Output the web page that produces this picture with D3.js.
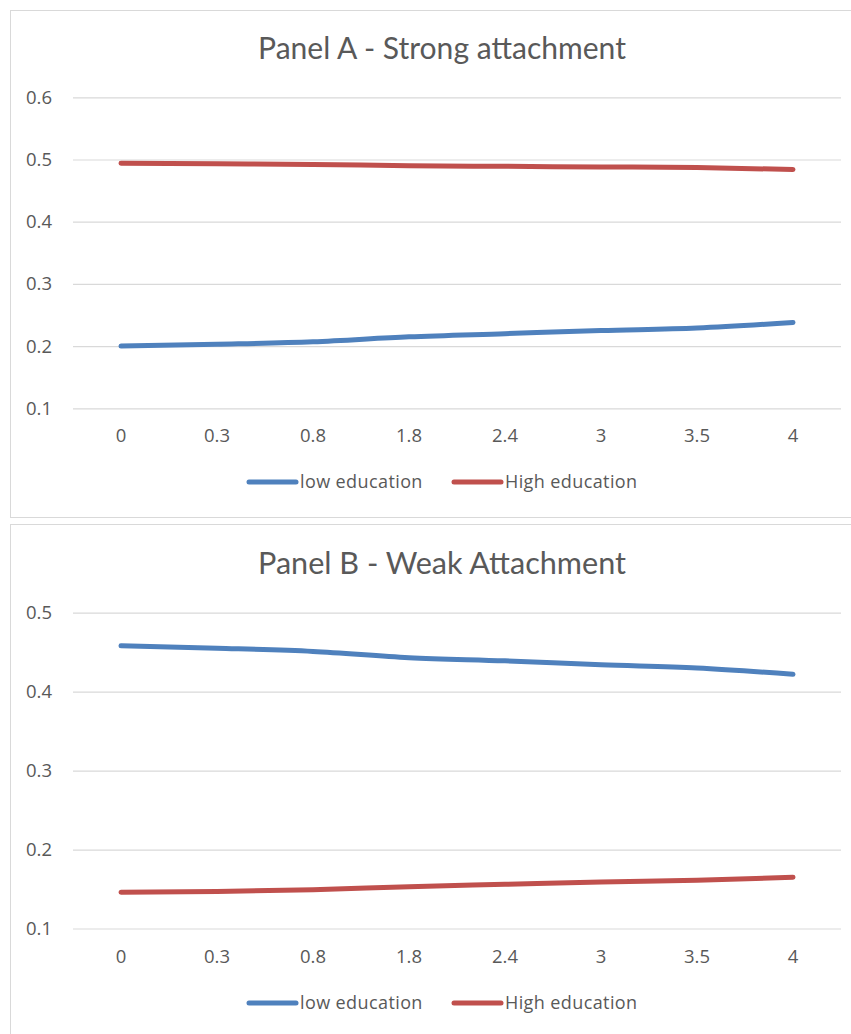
<!DOCTYPE html>
<html>
<head>
<meta charset="utf-8">
<script src="https://cdn.jsdelivr.net/npm/d3@7"></script>
<style>
  html, body { margin: 0; padding: 0; background: #fff; }
  svg { display: block; }
  text { font-family: "Open Sans", Lato, sans-serif; fill: #595959; }
</style>
</head>
<body>
<svg id="chart" width="851" height="1034"></svg>
<script>
// Categories on the x axis (shared by both panels)
const categories = ["0", "0.3", "0.8", "1.8", "2.4", "3", "3.5", "4"];

// Panel A – Strong attachment
const strongLow  = [0.200, 0.203, 0.207, 0.215, 0.220, 0.225, 0.229, 0.238];
const strongHigh = [0.494, 0.493, 0.492, 0.490, 0.489, 0.488, 0.487, 0.484];
const strongTicks = [0.1, 0.2, 0.3, 0.4, 0.5, 0.6];

// Panel B – Weak attachment
const weakLow  = [0.458, 0.455, 0.451, 0.443, 0.439, 0.434, 0.430, 0.422];
const weakHigh = [0.146, 0.147, 0.149, 0.153, 0.156, 0.159, 0.161, 0.165];
const weakTicks = [0.1, 0.2, 0.3, 0.4, 0.5];

const seriesNames = ["low education", "High education"];
const seriesColors = ["#4F81BD", "#C0504D"];

const svg = d3.select("#chart");
const labelFont = "'Open Sans', Lato, sans-serif";

const panels = [
  { title: "Panel A - Strong attachment", low: strongLow, high: strongHigh, ticks: strongTicks,
    box: [10, 10, 860, 507], titleY: 59, plotTop: 97.3, plotBottom: 408.3,
    xLabelY: 443, legendY: 482 },
  { title: "Panel B - Weak Attachment", low: weakLow, high: weakHigh, ticks: weakTicks,
    box: [10, 524, 860, 530], titleY: 574, plotTop: 612.7, plotBottom: 928.5,
    xLabelY: 964, legendY: 1003 }
];

const plotLeft = 73, plotRight = 841;

panels.forEach(p => {
  const g = svg.append("g");

  // chart area border
  g.append("rect")
    .attr("x", p.box[0] + 0.5).attr("y", p.box[1] + 0.5)
    .attr("width", p.box[2]).attr("height", p.box[3])
    .attr("fill", "#fff").attr("stroke", "#d9d9d9").attr("stroke-width", 1);

  // title, sized to the chart's title width
  const title = g.append("text")
    .attr("x", 442).attr("y", p.titleY)
    .attr("text-anchor", "middle")
    .style("font-family", "Lato, 'Open Sans', sans-serif")
    .style("font-size", "28px")
    .attr("fill", "#5f5f5f")
    .text(p.title);
  const w = title.node().getComputedTextLength();
  title.style("font-size", (28 * 368 / w).toFixed(2) + "px");

  const x = d3.scaleBand().domain(categories).range([plotLeft, plotRight]);
  const y = d3.scaleLinear()
    .domain([d3.min(p.ticks), d3.max(p.ticks)])
    .range([p.plotBottom, p.plotTop]);

  // gridlines + y labels
  const yAxis = d3.axisLeft(y).tickValues(p.ticks)
    .tickSize(-(plotRight - plotLeft)).tickPadding(21)
    .tickFormat(d3.format(".1f"));
  const ya = g.append("g").attr("transform", `translate(${plotLeft},0)`).call(yAxis);
  ya.select(".domain").remove();
  ya.selectAll(".tick line").attr("stroke", "#d9d9d9").attr("stroke-width", 1.2);
  ya.selectAll(".tick text").style("font-size", "18.5px").attr("fill", "#595959")
    .style("font-family", labelFont);

  // x labels
  const xAxis = d3.axisBottom(x).tickSize(0).tickPadding(0);
  const xa = g.append("g").attr("transform", `translate(0,${p.xLabelY - 14})`).call(xAxis);
  xa.select(".domain").remove();
  xa.selectAll(".tick text").style("font-size", "18.5px").attr("fill", "#595959")
    .attr("dy", "0.71em")
    .style("font-family", labelFont);

  // series lines
  const line = d3.line()
    .x((d, i) => x(categories[i]) + x.bandwidth() / 2)
    .y(d => y(d))
    .curve(d3.curveMonotoneX);

  [p.low, p.high].forEach((vals, k) => {
    g.append("path")
      .datum(vals)
      .attr("d", line)
      .attr("fill", "none")
      .attr("stroke", seriesColors[k])
      .attr("stroke-width", 5)
      .attr("stroke-linecap", "round")
      .attr("stroke-linejoin", "round");
  });

  // legend
  const legendItems = [
    { name: seriesNames[0], color: seriesColors[0], x0: 249 },
    { name: seriesNames[1], color: seriesColors[1], x0: 454 }
  ];
  legendItems.forEach(it => {
    g.append("line")
      .attr("x1", it.x0).attr("x2", it.x0 + 47)
      .attr("y1", p.legendY).attr("y2", p.legendY)
      .attr("stroke", it.color).attr("stroke-width", 5)
      .attr("stroke-linecap", "round");
    g.append("text")
      .attr("x", it.x0 + 51).attr("y", p.legendY)
      .attr("dy", "0.35em")
      .style("font-size", "18px")
      .style("letter-spacing", "0.4px")
      .style("font-family", labelFont)
      .text(it.name);
  });
});
</script>
</body>
</html>
